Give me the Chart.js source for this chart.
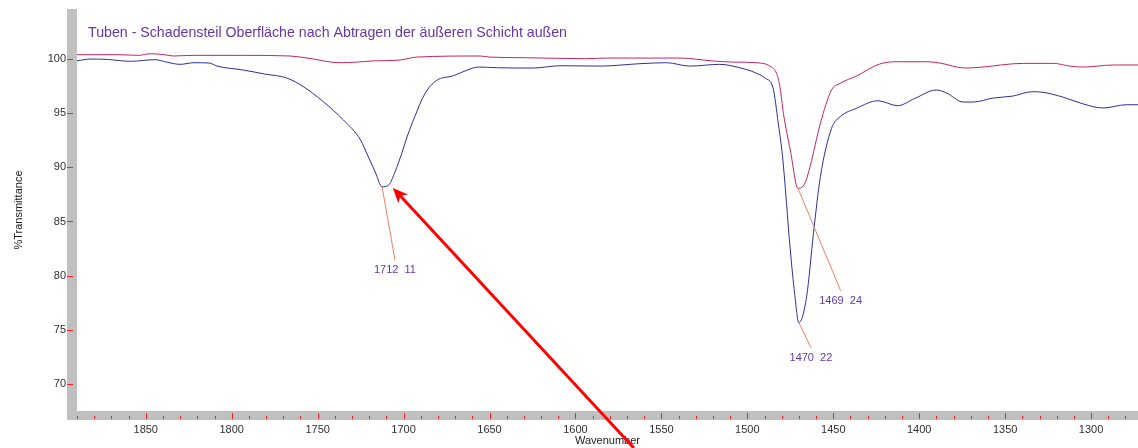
<!DOCTYPE html>
<html><head><meta charset="utf-8">
<script src="https://cdn.jsdelivr.net/npm/chart.js@4"></script>
<style>html,body{margin:0;padding:0;background:#fff;}canvas{display:block;}</style>
</head><body>
<canvas id="c" width="1138" height="448"></canvas>
<script>
const chartTitle = 'Tuben - Schadensteil Oberfläche nach Abtragen der äußeren Schicht außen';
const xAxisTitle = 'Wavenumber';
const yAxisTitle = '%Transmittance';

const blueWavenumbers = [1890,1882,1873,1859,1844.5,1838,1830,1822,1813,1808.5,1793,1781,1768,1758,1746.5,1735,1725,1721,1716.5,1712.5,1708.5,1705,1701,1698,1693.5,1687.5,1681,1671,1663,1656.5,1646,1636,1624.5,1609,1585.5,1562.5,1547,1533.5,1516,1506,1494.5,1489.5,1485,1482,1479.5,1475,1472.5,1470,1465.5,1461.5,1457.5,1451,1446,1436.5,1424,1412.5,1402.5,1390,1384,1374.5,1368.5,1357,1345.5,1334.5,1328,1316.5,1304.5,1293,1279.5,1272.5];
const blueValues = [99.84,100.0,99.97,99.79,99.94,99.72,99.51,99.66,99.63,99.35,98.98,98.62,98.25,97.42,96.03,94.37,92.52,91.14,89.57,88.2,88.4,89.57,91.32,92.8,94.67,96.83,98.0,98.46,98.98,99.26,99.2,99.17,99.17,99.38,99.35,99.57,99.66,99.35,99.51,99.26,98.68,98.22,97.32,94.06,90.98,82.37,78.37,75.66,78.06,83.94,89.13,93.6,94.67,95.45,96.15,95.69,96.37,97.14,96.86,96.03,96.03,96.4,96.58,96.98,96.93,96.49,95.85,95.48,95.78,95.78];

const redWavenumbers = [1890,1866,1854,1847.5,1839,1834,1823,1793,1766,1756,1737,1727,1718.5,1702,1692.5,1655.5,1650,1628.5,1593.5,1582,1539,1520,1508.5,1492.5,1486,1483,1481,1479,1475,1470.5,1466.5,1463.5,1457.5,1451,1446,1436.5,1423,1413,1395,1388,1373.5,1366,1339.5,1322,1312.5,1304.5,1287,1272.5];
const redValues = [100.4,100.4,100.34,100.49,100.4,100.28,100.34,100.34,100.28,100.09,99.66,99.72,99.82,99.91,100.18,100.28,100.18,100.12,100.03,100.09,100.09,99.82,99.72,99.63,99.26,98.68,97.42,94.99,91.6,88.06,88.53,90.06,94.06,97.14,97.76,98.43,99.54,99.75,99.75,99.63,99.17,99.22,99.6,99.6,99.35,99.26,99.45,99.45];

const yTickValues = [70,75,80,85,90,95,100];
const xTickValues = [1850,1800,1750,1700,1650,1600,1550,1500,1450,1400,1350,1300];
const xMinorStep = 10;
const xMajorStep = 50;
const xRange = [1272.7, 1890];
const yRange = [67.5, 104.62];

const peakWavenumbers = [1712.5, 1470.5, 1470];
const peakValues = [88.2, 88.06, 75.66];
const peakLabelWavenumbers = [1705, 1445.7, 1463];
const peakLabelValues = [81.45, 78.61, 73.35];
const peakLabels = ['1712  11', '1469  24', '1470  22'];

const arrowWavenumbers = [1566, 1706.2]; // tail, tip
const arrowValues = [64.09, 88.1];

const FONT = 'Liberation Sans, Arial, sans-serif';
const PURPLE = '#6238a8';

function toXY(xs, ys){ return xs.map((x,i)=>({x:x, y:ys[i]})); }

const framePlugin = {
  id: 'frame',
  beforeDatasetsDraw(chart){
    const {ctx, chartArea:a, scales:{x, y}} = chart;
    ctx.save();
    ctx.fillStyle = '#c0c0c0';
    ctx.fillRect(a.left - 10, a.top, 10, a.bottom - a.top + 9);
    ctx.fillRect(a.left - 10, a.bottom, a.right - a.left + 10, 9);
    ctx.strokeStyle = '#ff2020';
    ctx.lineWidth = 1;
    ctx.beginPath();
    yTickValues.forEach(v => {
      const py = Math.round(y.getPixelForValue(v)) + 0.5;
      ctx.moveTo(a.left - 10, py); ctx.lineTo(a.left - 4, py);
    });
    for (let w = Math.ceil(x.min / xMinorStep) * xMinorStep; w <= x.max; w += xMinorStep) {
      const px = Math.round(x.getPixelForValue(w)) + 0.5;
      const major = (w % xMajorStep) === 0;
      ctx.moveTo(px, a.bottom + (major ? 2 : 5)); ctx.lineTo(px, a.bottom + 8);
    }
    ctx.stroke();
    // title
    ctx.fillStyle = PURPLE;
    ctx.font = '14.2px ' + FONT;
    ctx.textAlign = 'left';
    ctx.textBaseline = 'middle';
    ctx.fillText(chartTitle, a.left + 11, a.top + 24);
    ctx.restore();
  },
  afterDatasetsDraw(chart){
    const {ctx, scales:{x, y}} = chart;
    ctx.save();
    ctx.strokeStyle = '#f47f5c';
    ctx.lineWidth = 1;
    ctx.font = '11px ' + FONT;
    ctx.fillStyle = PURPLE;
    ctx.textAlign = 'center';
    ctx.textBaseline = 'middle';
    peakLabels.forEach((lab, i) => {
      const x1 = x.getPixelForValue(peakWavenumbers[i]), y1 = y.getPixelForValue(peakValues[i]);
      const x2 = x.getPixelForValue(peakLabelWavenumbers[i]), y2 = y.getPixelForValue(peakLabelValues[i]);
      ctx.beginPath(); ctx.moveTo(x1, y1); ctx.lineTo(x2, y2); ctx.stroke();
      ctx.fillText(lab, x2, y2 + 10.5);
    });
    ctx.restore();
  },
  afterDraw(chart){
    const {ctx, scales:{x, y}} = chart;
    const tx = x.getPixelForValue(arrowWavenumbers[0]), ty = y.getPixelForValue(arrowValues[0]);
    const hx = x.getPixelForValue(arrowWavenumbers[1]), hy = y.getPixelForValue(arrowValues[1]);
    const ang = Math.atan2(hy - ty, hx - tx);
    const L = 15, W = 6.5;
    const bx = hx - Math.cos(ang) * L, by = hy - Math.sin(ang) * L;
    ctx.save();
    ctx.strokeStyle = '#ff0000';
    ctx.fillStyle = '#ff0000';
    ctx.lineWidth = 3;
    ctx.beginPath();
    ctx.moveTo(tx, ty);
    ctx.lineTo(hx - Math.cos(ang) * 8, hy - Math.sin(ang) * 8);
    ctx.stroke();
    ctx.beginPath();
    ctx.moveTo(hx, hy);
    ctx.lineTo(bx - Math.sin(ang) * W, by + Math.cos(ang) * W);
    ctx.lineTo(hx - Math.cos(ang) * 11, hy - Math.sin(ang) * 11);
    ctx.lineTo(bx + Math.sin(ang) * W, by - Math.cos(ang) * W);
    ctx.closePath();
    ctx.fill();
    ctx.restore();
  }
};

Chart.defaults.font.family = FONT;

new Chart(document.getElementById('c'), {
  type: 'line',
  data: {
    datasets: [
      { label: 'Referenz', data: toXY(redWavenumbers, redValues), borderColor: '#c4245e', borderWidth: 1, pointRadius: 0, cubicInterpolationMode: 'monotone', fill: false },
      { label: 'Probe', data: toXY(blueWavenumbers, blueValues), borderColor: '#2e2e9e', borderWidth: 1, pointRadius: 0, cubicInterpolationMode: 'monotone', fill: false }
    ]
  },
  options: {
    responsive: false,
    animation: false,
    devicePixelRatio: 1,
    layout: { padding: { top: 9, left: 0, right: 0, bottom: 0 } },
    plugins: { legend: { display: false }, tooltip: { enabled: false }, title: { display: false } },
    scales: {
      x: {
        type: 'linear', reverse: true, min: xRange[0], max: xRange[1],
        afterFit(s){ s.height = 37; s.paddingLeft = 0; s.paddingRight = 0; },
        afterBuildTicks(s){ s.ticks = xTickValues.map(v => ({value: v})); },
        grid: { display: false, drawTicks: false },
        border: { display: false },
        ticks: { padding: 12, maxRotation: 0, autoSkip: false, color: '#303030', font: { size: 11 }, callback: v => String(v) },
        title: { display: true, text: xAxisTitle, color: '#202020', font: { size: 11 }, padding: { top: 0, bottom: 0 } }
      },
      y: {
        type: 'linear', min: yRange[0], max: yRange[1],
        afterFit(s){ s.width = 77; s.paddingTop = 0; s.paddingBottom = 0; },
        afterBuildTicks(s){ s.ticks = yTickValues.map(v => ({value: v})); },
        grid: { display: false, drawTicks: false },
        border: { display: false },
        ticks: { padding: 11, color: '#303030', font: { size: 11 }, callback: v => String(v) },
        title: { display: true, text: yAxisTitle, color: '#202020', font: { size: 11 }, padding: { top: 12, bottom: 0 } }
      }
    }
  },
  plugins: [framePlugin]
});
</script>
</body></html>
